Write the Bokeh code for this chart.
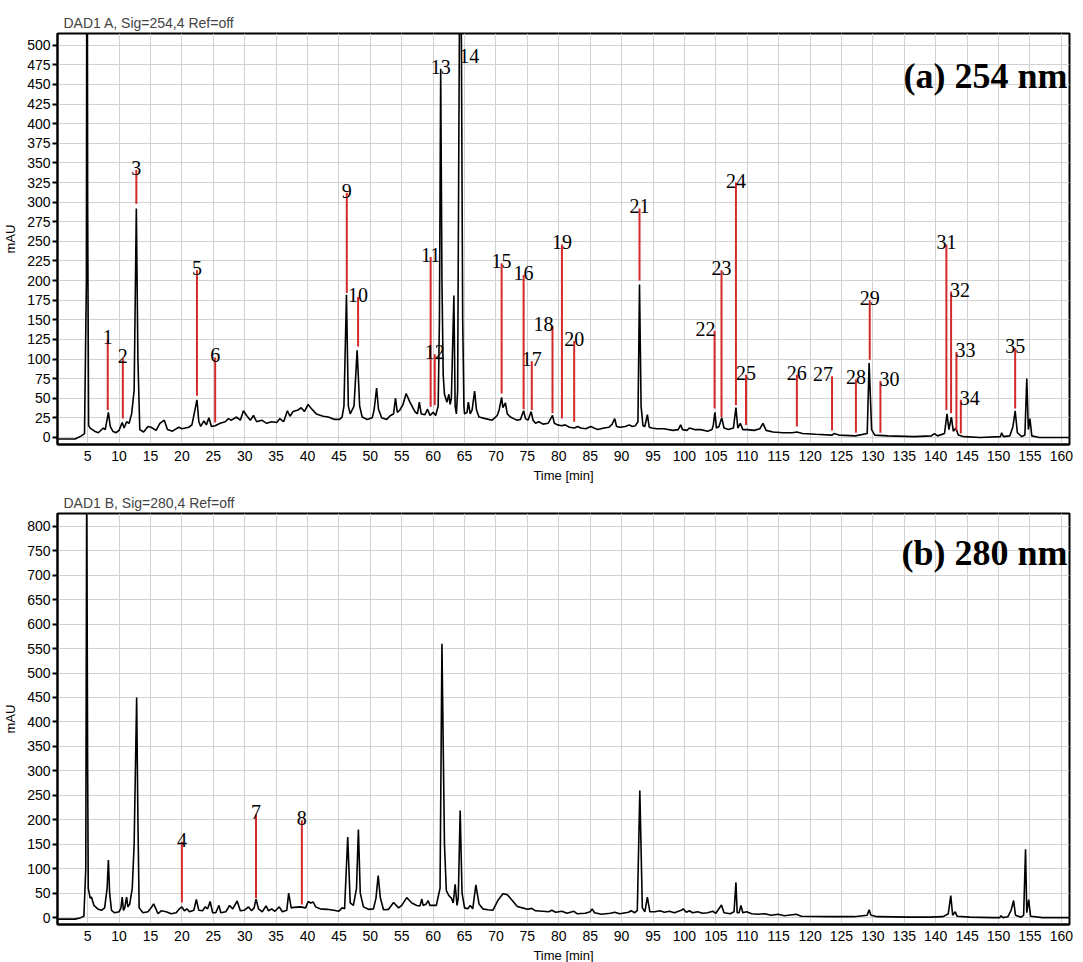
from bokeh.plotting import figure
from bokeh.layouts import column
from bokeh.models import Label, FixedTicker, ColumnDataSource, Spacer
from bokeh.core.properties import value
from bokeh.embed import file_html
from bokeh.resources import INLINE

# ---------------- data: 254 nm trace (time [min], mAU) ----------------
t254 = [0.2, 3.0, 4.0, 4.5, 4.8, 4.9, 5.0, 5.15, 5.4, 6.1, 6.7, 7.5, 7.8, 8.3, 8.6, 9.0, 9.5, 10.0,
        10.5, 10.8, 11.2, 11.6, 12.0, 12.4, 12.75, 13.0, 13.3, 13.9, 14.6, 15.1, 15.9, 16.5, 17.2,
        17.7, 18.5, 19.5, 20.0, 21.1, 21.6, 22.4, 22.7, 23.0, 23.5, 23.9, 24.3, 24.7, 25.3, 26.1,
        26.9, 27.4, 27.9, 28.7, 29.3, 29.8, 30.3, 30.9, 31.4, 31.9, 32.7, 33.5, 34.3, 35.1, 35.6,
        36.2, 36.8, 37.2, 37.7, 38.5, 39.0, 39.5, 40.1, 40.6, 41.4, 42.5, 43.3, 44.3, 45.1, 45.5,
        45.8, 46.2, 46.5, 46.8, 47.4, 47.9, 48.3, 48.7, 49.5, 50.3, 50.6, 51.0, 51.3, 51.8, 52.6,
        53.2, 53.7, 54.0, 54.3, 54.7, 55.2, 55.7, 56.3, 57.1, 57.5, 57.8, 58.1, 58.7, 59.1, 59.5,
        60.0, 60.4, 60.8, 61.0, 61.2, 61.4, 61.6, 61.8, 62.2, 62.5, 62.7, 62.9, 63.3, 63.5, 63.7,
        63.9, 64.1, 64.3, 64.5, 64.7, 64.9, 65.0, 65.4, 65.6, 65.9, 66.2, 66.6, 66.9, 67.3, 68.3,
        69.4, 70.2, 70.5, 70.9, 71.1, 71.5, 71.8, 72.3, 72.8, 73.4, 73.9, 74.4, 74.7, 75.1, 75.6,
        75.9, 76.3, 76.8, 77.5, 78.3, 79.0, 79.3, 79.8, 80.5, 81.0, 81.7, 82.5, 83.0, 83.5, 84.3,
        85.1, 85.6, 86.2, 87.2, 88.0, 88.5, 88.9, 89.2, 89.8, 90.6, 91.2, 91.7, 92.2, 92.6, 92.85,
        93.1, 93.4, 93.7, 94.1, 94.4, 94.8, 95.6, 96.7, 98.2, 99.0, 99.4, 99.7, 100.4, 100.8, 101.6,
        102.6, 103.7, 104.4, 104.6, 104.85, 105.1, 105.5, 105.95, 106.3, 107.0, 107.8, 108.2, 108.5,
        108.9, 109.3, 110.0, 111.1, 112.0, 112.5, 113.0, 114.1, 115.7, 117.2, 117.9, 118.8, 120.9,
        123.5, 123.8, 124.6, 127.2, 129.1, 129.4, 129.8, 130.3, 132.4, 136.6, 139.3, 139.8, 140.3,
        141.4, 141.8, 142.1, 142.5, 142.8, 143.2, 143.6, 144.5, 147.1, 150.3, 150.5, 150.8, 151.8,
        152.3, 152.65, 153.0, 153.7, 154.2, 154.5, 154.75, 155.0, 155.3, 156.5, 161.3]
a254 = [-2, -2, 2, 5, 200, 900, 300, 15, 12, 8, 6, 12, 10, 32, 14, 8, 6, 9,
        19, 12, 20, 18, 30, 60, 292, 100, 10, 7, 14, 13, 9, 18, 22,
        10, 8, 13, 11, 13, 16, 48, 20, 14, 21, 16, 25, 14, 15, 18,
        20, 24, 22, 26, 22, 34, 28, 22, 28, 20, 22, 18, 20, 19, 24,
        20, 34, 27, 33, 35, 38, 33, 42, 37, 30, 27, 26, 23, 23, 26,
        40, 182, 40, 30, 40, 111, 40, 26, 23, 25, 35, 63, 36, 25, 23,
        28, 30, 50, 32, 35, 42, 56, 45, 33, 30, 45, 30, 29, 36, 28,
        32, 28, 40, 150, 470, 200, 80, 55, 45, 55, 42, 50, 181, 40, 30,
        60, 400, 700, 500, 150, 40, 30, 32, 45, 30, 35, 59, 35, 26, 24,
        22, 28, 35, 51, 38, 44, 30, 26, 24, 22, 23, 34, 24, 22, 33,
        22, 18, 20, 17, 18, 28, 18, 16, 15, 16, 13, 12, 14, 12, 11,
        14, 12, 10, 12, 13, 17, 24, 14, 13, 14, 16, 14, 15, 20, 195,
        40, 15, 14, 29, 13, 12, 11, 11, 9, 10, 16, 10, 9, 12, 10,
        10, 8, 10, 16, 32, 12, 14, 25, 12, 10, 12, 38, 12,
        18, 10, 10, 9, 11, 18, 9, 7, 6, 6, 7, 5, 4,
        3, 5, 3, 2, 5, 95, 10, 3, 2, 1, 2, 5, 2,
        5, 30, 10, 26, 8, 12, 3, 1, 0, 1, 6, 1, 2,
        14, 34, 6, 1, 3, 75, 10, 24, 2, 0, 0]

# ---------------- data: 280 nm trace ----------------
t280 = [0.3, 3.0, 3.9, 4.4, 4.7, 4.85, 5.0, 5.1, 5.4, 5.6, 6.0, 6.7, 7.2, 7.7, 8.1, 8.3, 8.5, 8.8,
        9.3, 10.0, 10.3, 10.5, 10.7, 10.9, 11.2, 11.4, 11.7, 12.1, 12.4, 12.8, 13.0, 13.2, 13.8,
        14.6, 15.1, 15.5, 15.8, 16.2, 16.7, 17.5, 18.3, 19.1, 19.6, 20.0, 20.4, 20.8, 21.2, 21.9,
        22.3, 22.7, 23.3, 23.7, 24.1, 24.5, 24.9, 25.4, 25.9, 26.2, 27.0, 27.6, 28.1, 28.8, 29.3,
        29.9, 30.6, 31.1, 31.5, 31.8, 32.2, 32.8, 33.4, 33.8, 34.3, 34.8, 35.5, 36.0, 36.7, 37.0,
        37.4, 37.8, 38.9, 39.7, 40.1, 40.5, 40.9, 41.3, 42.0, 43.1, 44.2, 45.0, 45.5, 45.9, 46.4,
        46.8, 47.3, 47.8, 48.1, 48.4, 48.9, 49.7, 50.5, 50.9, 51.25, 51.6, 52.1, 52.9, 53.7, 54.5,
        55.0, 55.8, 56.6, 57.4, 57.9, 58.2, 58.4, 58.9, 59.2, 59.5, 60.5, 61.1, 61.4, 61.8, 62.1,
        62.5, 62.9, 63.2, 63.5, 63.8, 64.0, 64.3, 64.6, 65.0, 65.5, 65.9, 66.3, 66.8, 67.3, 67.9,
        68.7, 69.5, 70.3, 71.1, 71.8, 72.6, 73.4, 74.2, 75.0, 75.7, 76.3, 77.4, 78.4, 78.9, 79.5,
        80.5, 81.3, 82.4, 82.9, 84.2, 85.0, 85.3, 85.7, 86.8, 88.2, 88.9, 89.7, 91.1, 91.5, 92.1,
        92.5, 92.9, 93.3, 93.7, 94.1, 94.5, 95.3, 96.1, 96.8, 97.6, 98.4, 99.5, 99.8, 100.3, 100.8,
        101.3, 102.1, 102.9, 103.7, 104.5, 105.0, 105.9, 106.3, 107.3, 107.9, 108.2, 108.4, 108.7,
        109.0, 109.3, 109.9, 110.7, 111.7, 112.8, 113.8, 114.9, 115.9, 117.8, 118.6, 122.8, 127.0,
        129.1, 129.4, 129.7, 130.7, 135.9, 139.1, 141.2, 142.0, 142.4, 142.7, 143.1, 143.4, 145.4,
        149.1, 150.2, 150.4, 150.7, 151.5, 152.0, 152.4, 152.7, 153.6, 154.0, 154.3, 154.5, 154.8,
        155.1, 157.0, 161.3]
a280 = [-3, -3, 0, 3, 100, 900, 300, 60, 40, 42, 25, 17, 15, 20, 60, 118, 50, 15,
        10, 12, 20, 42, 15, 20, 42, 22, 28, 60, 150, 450, 200, 20, 10,
        12, 20, 28, 20, 8, 14, 12, 8, 10, 18, 22, 14, 18, 12, 15,
        37, 15, 14, 22, 18, 33, 10, 10, 25, 10, 12, 25, 18, 34, 14,
        15, 22, 14, 20, 38, 18, 12, 24, 14, 18, 13, 22, 12, 15, 50,
        20, 21, 22, 20, 33, 30, 32, 22, 18, 17, 15, 13, 20, 18, 165,
        30, 25, 60, 180, 50, 22, 17, 18, 40, 86, 40, 16, 17, 31, 20,
        25, 41, 30, 25, 24, 38, 25, 28, 35, 25, 25, 60, 560, 150, 55,
        45, 40, 30, 68, 25, 40, 219, 50, 20, 18, 25, 18, 67, 28, 18,
        16, 15, 35, 49, 47, 35, 23, 20, 17, 19, 14, 13, 12, 15, 11,
        13, 9, 13, 8, 9, 12, 18, 10, 7, 9, 11, 8, 11, 14, 10,
        15, 260, 20, 12, 42, 12, 12, 14, 11, 13, 10, 15, 18, 11, 14,
        10, 12, 9, 10, 13, 9, 26, 10, 8, 12, 72, 10, 10,
        25, 10, 12, 8, 7, 8, 5, 7, 4, 7, 3, 2, 2,
        5, 16, 5, 2, 1, 1, 2, 8, 45, 5, 12, 3, 1,
        0, 0, 4, 0, 2, 15, 35, 5, 1, 5, 140, 10, 37,
        3, 0, 0]

# ---------------- peak annotations ----------------
pk254_id = ["1", "2", "3", "5", "6", "9", "10", "11", "12", "13", "14", "15", "16", "17", "18",
            "19", "20", "21", "22", "23", "24", "25", "26", "27", "28", "29", "30", "31", "32",
            "33", "34", "35"]
pk254_t = [8.2, 10.6, 12.75, 22.4, 25.3, 46.25, 48.05, 59.6, 60.25, 61.2, 64.3, 70.9, 74.4,
           75.7, 79.0, 80.5, 82.45, 92.85, 104.8, 105.9, 108.2, 109.8, 117.9, 123.5, 127.3,
           129.5, 131.2, 141.7, 142.45, 143.3, 144.0, 152.65]
pk254_top = [125, 101, 341, 213, 102, 312, 179, 230, 106, 470, 484, 222, 207, 97, 142, 246,
             123, 292, 136, 213, 325, 80, 80, 78, 74, 175, 72, 246, 186, 109, 48, 114]
pk254_base = [35, 24, 298, 53, 19, 184, 116, 39, 41, 470, 484, 56, 36, 35, 31, 24, 20, 200,
              37, 26, 41, 16, 14, 9, 6, 99, 6, 35, 31, 9, 5, 37]

pk280_id = ["4", "7", "8"]
pk280_t = [20.0, 31.8, 39.1]
pk280_top = [155, 211, 199]
pk280_base = [31, 40, 27]

# label placement relative to its marker line (style, not data)
SIDE = {"14": "left", "30": "left", "32": "left", "33": "left", "34": "left",
        "18": "right", "22": "right", "27": "right"}

SANS = "Liberation Sans"
SERIF = "Liberation Serif"
RED = "#d42a2a"
XMAX = 161.3


def panel(title, height, top_border, yr, yticks, t, a, ids, pt, ptop, pbase, tag, tag_y):
    p = figure(width=1073, height=height, x_range=(0.2, XMAX), y_range=yr,
               output_backend="svg", toolbar_location=None,
               min_border_left=57, min_border_right=4, min_border_top=top_border,
               min_border_bottom=42, background_fill_color="white",
               border_fill_color="white")
    p.title.text = title
    p.title.text_font = SANS
    p.title.text_font_size = "14px"
    p.title.text_font_style = "normal"
    p.title.align = "left"
    p.title.offset = 6
    p.title.standoff = 5

    xt = FixedTicker(ticks=list(range(5, 161, 5)))
    yt = FixedTicker(ticks=yticks)
    p.xaxis.ticker = xt
    p.yaxis.ticker = yt
    p.xgrid.ticker = xt
    p.ygrid.ticker = yt
    for g in (p.xgrid, p.ygrid):
        g.grid_line_color = "#d2d2d2"
        g.grid_line_width = 1

    p.xaxis.axis_label = "Time [min]"
    p.yaxis.axis_label = "mAU"
    for ax in (p.xaxis, p.yaxis):
        ax.axis_label_text_font = SANS
        ax.axis_label_text_font_size = "13px"
        ax.axis_label_text_font_style = "normal"
        ax.axis_label_text_color = "black"
        ax.major_label_text_font = SANS
        ax.major_label_text_font_size = "14px"
        ax.major_label_text_color = "black"
        ax.axis_line_width = 2
        ax.axis_line_color = "black"
        ax.minor_tick_line_color = None
        ax.major_tick_in = 0
    p.xaxis.major_tick_out = 0
    p.xaxis.major_label_standoff = 6
    p.xaxis.axis_label_standoff = 4
    p.yaxis.major_tick_out = 5
    p.yaxis.major_tick_line_width = 2
    p.yaxis.major_label_standoff = 2
    p.yaxis.axis_label_standoff = 6
    p.outline_line_color = "black"
    p.outline_line_width = 2

    p.line(t, a, line_color="black", line_width=1.6)

    # red marker lines
    seg = [(x, b, tp) for x, b, tp in zip(pt, pbase, ptop) if tp > b]
    if seg:
        p.segment(x0=[s[0] for s in seg], y0=[s[1] for s in seg],
                  x1=[s[0] for s in seg], y1=[s[2] for s in seg],
                  line_color=RED, line_width=2)

    groups = {"center": ([], [], []), "left": ([], [], []), "right": ([], [], [])}
    for i, x, tp in zip(ids, pt, ptop):
        g = groups[SIDE.get(i, "center")]
        g[0].append(x)
        g[1].append(tp)
        g[2].append(i)
    offs = {"center": 0, "left": -1, "right": 1}
    for side, (xs, ys, txt) in groups.items():
        if not xs:
            continue
        src = ColumnDataSource(dict(x=xs, y=ys, text=txt))
        p.text(x="x", y="y", text="text", source=src, text_font=value(SERIF),
               text_font_size="20px", text_color="black", text_align=side,
               text_baseline="alphabetic", x_offset=offs[side], y_offset=-2)

    p.add_layout(Label(x=XMAX, y=tag_y, x_offset=-2, text=tag, text_font=SERIF,
                       text_font_size="36px", text_font_style="bold", text_color="black",
                       text_align="right", text_baseline="alphabetic"))
    return p


p1 = panel("DAD1 A, Sig=254,4 Ref=off", 478, 25, (-9, 515), list(range(0, 501, 25)),
           t254, a254, pk254_id, pk254_t, pk254_top, pk254_base, "(a) 254 nm", 461)
p2 = panel("DAD1 B, Sig=280,4 Ref=off", 480, 27, (-14, 826), list(range(0, 801, 50)),
           t280, a280, pk280_id, pk280_t, pk280_top, pk280_base, "(b) 280 nm", 745)

layout = column(Spacer(height=8, width=10), p1, p2, spacing=0)
open("out.html", "w").write(file_html(layout, INLINE))
